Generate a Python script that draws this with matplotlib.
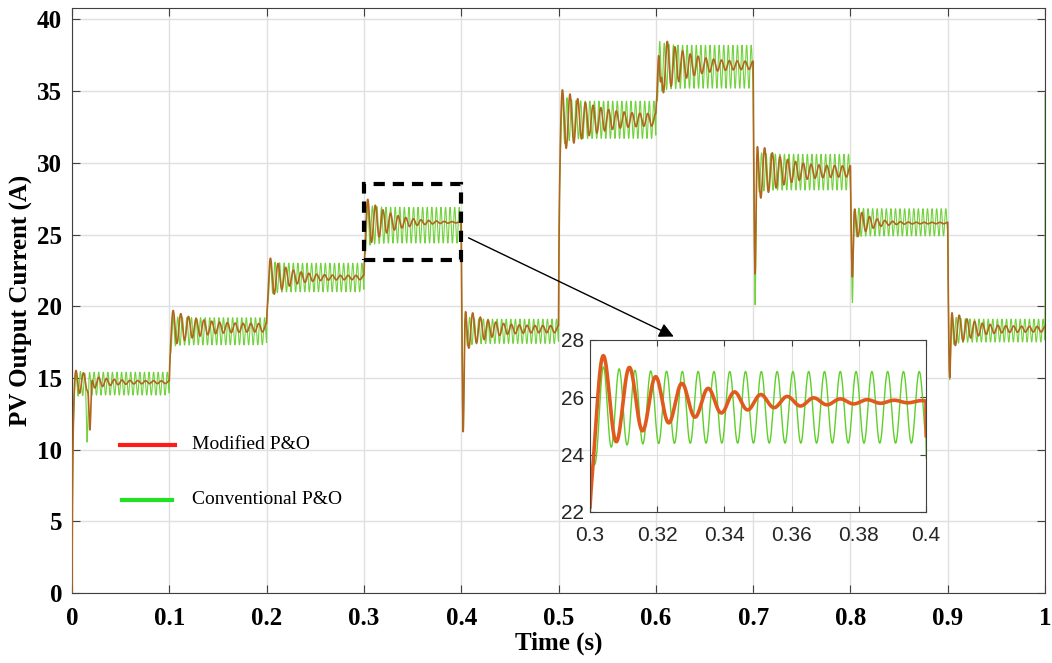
import numpy as np
import matplotlib.pyplot as plt
from matplotlib.patches import Rectangle

# values, one entry per 0.1 s irradiance step
seg_start = [0.0, 0.1, 0.2, 0.3, 0.4, 0.5, 0.6, 0.7, 0.8, 0.9]
mod_level = [14.7, 18.5, 22.0, 25.85, 18.4, 33.0, 36.8, 29.4, 25.8, 18.4]   # settled value, modified P&O
mod_swing = [1.0, 1.1, 1.5, 1.9, 1.6, 2.0, 2.2, 2.0, 1.5, 1.4]            # first transient swing
mod_decay = [0.02, 0.025, 0.02, 0.024, 0.02, 0.03, 0.025, 0.025, 0.015, 0.02]
mod_ripple = [0.1, 0.3, 0.15, 0.03, 0.25, 0.45, 0.3, 0.4, 0.05, 0.2]       # sustained ripple
mod_dip = [11.1, None, None, None, 10.0, None, 33.8, 21.0, 21.4, 14.1]     # lowest point after the step
mod_dip_at = [0.0185, 0, 0, 0, 0.002, 0, 0.0045, 0.002, 0.002, 0.002]
conv_low = [13.8, 17.3, 21.0, 24.4, 17.4, 31.7, 35.2, 28.1, 24.9, 17.5]
conv_high = [15.4, 19.2, 23.0, 26.9, 19.1, 34.3, 38.2, 30.6, 26.8, 19.1]
conv_peak = [15.6, 19.4, 23.3, 27.3, 19.6, 35.3, 38.8, 31.0, 27.0, 19.6]
conv_dip = [11.3, None, None, None, 11.5, None, None, 20.1, 20.5, 15.0]
conv_dip_at = [0.0155, 0, 0, 0, 0.002, 0, 0, 0.002, 0.002, 0.002]
conv_end = 34.8   # green spike at t = 1 s

conv_period = 0.0047
mod_period = 0.0078

dt = 1e-4
t = np.arange(0, 1.0, dt)
mod = np.zeros_like(t)
conv = np.zeros_like(t)

prev_m, prev_c = 0.0, 0.0
for k in range(len(seg_start)):
    m = (t >= seg_start[k] - dt / 2) & (t < seg_start[k] + 0.1 - dt / 2)
    tau = t[m] - seg_start[k]
    rise = 1 - np.exp(-tau / 0.0008)

    # modified P&O: damped swing that settles to the level
    target = (mod_level[k]
              + mod_swing[k] * np.exp(-tau / mod_decay[k]) * np.cos(2 * np.pi * (tau - 0.004) / mod_period)
              + mod_ripple[k] * np.cos(2 * np.pi * (tau - 0.004) / 0.008))
    if mod_dip[k] is not None:
        target -= (mod_level[k] - mod_dip[k]) * np.exp(-((tau - mod_dip_at[k]) / 0.0013) ** 2)
    mod[m] = prev_m + rise * (target - prev_m)

    # conventional P&O: steady ripple between low and high
    mid = (conv_low[k] + conv_high[k]) / 2
    half = (conv_high[k] - conv_low[k]) / 2
    over = (conv_peak[k] - mid) / half - 1
    targ_c = mid + half * (1 + over * np.exp(-tau / 0.006)) * np.cos(2 * np.pi * (tau - 0.004) / conv_period)
    if conv_dip[k] is not None:
        targ_c -= (mid - conv_dip[k]) * np.exp(-((tau - conv_dip_at[k]) / 0.0012) ** 2)
    conv[m] = prev_c + rise * (targ_c - prev_c)

    prev_m, prev_c = mod[m][-1], conv[m][-1]

t_c = np.append(t, 1.0)
conv_full = np.append(conv, conv_end)

fig = plt.figure(figsize=(10.52, 6.63), dpi=100)
ax = fig.add_axes([0.0684, 0.1056, 0.925, 0.8824])

ax.plot(t_c, conv_full, color="#72d23c", lw=0.8, zorder=2)
ax.plot(t, mod, color="#b0671d", lw=1.2, zorder=3)

ax.set_xlim(0, 1)
ax.set_ylim(0, 40.8)
ax.set_xticks(np.arange(0, 1.01, 0.1))
ax.set_xticklabels(["0", "0.1", "0.2", "0.3", "0.4", "0.5", "0.6", "0.7", "0.8", "0.9", "1"])
ax.set_yticks(np.arange(0, 41, 5))
ax.grid(color="#e0e0e0", lw=1)
ax.tick_params(direction="in", top=True, right=True, length=6, color="#404040")
ax.tick_params(axis="x", pad=10)
ax.tick_params(axis="y", pad=7)
for lab in ax.get_xticklabels() + ax.get_yticklabels():
    lab.set_fontfamily("Liberation Serif")
    lab.set_fontweight("bold")
    lab.set_fontsize(18)
for s in ax.spines.values():
    s.set_color("#404040")

ax.set_xlabel("Time (s)", fontfamily="Liberation Serif", fontweight="bold", fontsize=18, labelpad=1)
ax.set_ylabel("PV Output Current (A)", fontfamily="Liberation Serif", fontweight="bold", fontsize=18, labelpad=3)

# hand-made legend
ax.plot([0.049, 0.106], [10.35, 10.35], color="#ff1a1a", lw=3)
ax.plot([0.051, 0.103], [6.5, 6.5], color="#22e022", lw=3)
ax.text(0.123, 10.35, "Modified P&O", fontfamily="Liberation Serif", fontsize=14, va="center")
ax.text(0.123, 6.5, "Conventional P&O", fontfamily="Liberation Serif", fontsize=14, va="center")

# zoom box and arrow
ax.add_patch(Rectangle((0.3, 23.2), 0.1, 5.3, fill=False, ec="black", lw=3,
                       ls=(0, (2.7, 1.9)), zorder=5))
ax.annotate("", xy=(0.621, 17.8), xytext=(0.405, 24.85),
            arrowprops=dict(arrowstyle="-|>", color="black", lw=1, mutation_scale=22),
            zorder=6)

# inset
ins = fig.add_axes([0.5608, 0.2278, 0.3194, 0.2594])
ins.plot(t_c, conv_full, color="#5fcf2a", lw=1.0)
ins.plot(t, mod, color="#e05a1e", lw=2.6)
ins.set_xlim(0.3, 0.4)
ins.set_ylim(22, 28)
ins.set_xticks([0.3, 0.32, 0.34, 0.36, 0.38, 0.4])
ins.set_xticklabels(["0.3", "0.32", "0.34", "0.36", "0.38", "0.4"])
ins.set_yticks([22, 24, 26, 28])
ins.grid(color="#e0e0e0", lw=0.8)
ins.tick_params(direction="in", top=True, right=True, length=4, color="#404040", labelsize=15)
ins.tick_params(axis="x", pad=10)
ins.tick_params(axis="y", pad=4)
for lab in ins.get_xticklabels() + ins.get_yticklabels():
    lab.set_fontfamily("Liberation Sans")
    lab.set_color("#262626")
for s in ins.spines.values():
    s.set_color("#404040")

fig.savefig("out.png", dpi=100)
